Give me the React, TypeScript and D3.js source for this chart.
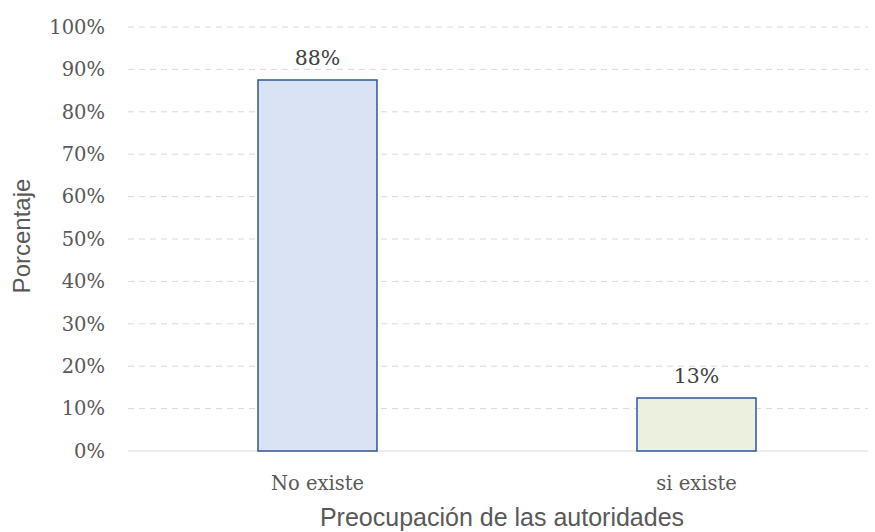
import * as d3 from 'd3';
import { useEffect, useRef } from 'react';

const categories = ['No existe', 'si existe'];
const values = [0.875, 0.125];
const labels = ['88%', '13%'];
const fills = ['#dae3f3', '#ebf1de'];
const yTicks = [0, 0.1, 0.2, 0.3, 0.4, 0.5, 0.6, 0.7, 0.8, 0.9, 1];

const App = () => {
  const svgRef = useRef<SVGSVGElement>(null);
  const width = 875, height = 532;

  useEffect(() => {
    const svg = d3.select(svgRef.current);
    svg.selectAll('*').remove();

    const x = d3.scaleBand().domain(categories).range([128, 886])
      .paddingInner(0.686).paddingOuter(0.343);
    const y = d3.scaleLinear().domain([0, 1]).range([451, 27]);
    const serif = '"DejaVu Serif", "Liberation Serif", serif';
    const sans = '"Liberation Sans", Arial, sans-serif';

    // grid
    svg.append('g').selectAll('line').data(yTicks).join('line')
      .attr('x1', 128).attr('x2', 868)
      .attr('y1', d => y(d)).attr('y2', d => y(d))
      .attr('stroke', '#d9d9d9').attr('stroke-width', 1)
      .attr('stroke-dasharray', d => d === 0 ? null : '6,5');

    // y tick labels
    svg.append('g').selectAll('text').data(yTicks).join('text')
      .attr('x', 105).attr('y', d => y(d)).attr('dy', '0.35em')
      .attr('text-anchor', 'end').attr('font-family', serif).attr('font-size', 19.5)
      .attr('fill', '#595959').text(d => d3.format('.0%')(d));

    // bars
    svg.append('g').selectAll('rect').data(values).join('rect')
      .attr('x', (d, i) => x(categories[i])!)
      .attr('y', d => y(d))
      .attr('width', x.bandwidth())
      .attr('height', d => y(0) - y(d))
      .attr('fill', (d, i) => fills[i])
      .attr('stroke', '#2f5597').attr('stroke-width', 1.5);

    // value labels
    svg.append('g').selectAll('text').data(values).join('text')
      .attr('x', (d, i) => x(categories[i])! + x.bandwidth() / 2)
      .attr('y', d => y(d) - 15)
      .attr('text-anchor', 'middle').attr('font-family', serif).attr('font-size', 20.5)
      .attr('fill', '#404040').text((d, i) => labels[i]);

    // category labels
    svg.append('g').selectAll('text').data(categories).join('text')
      .attr('x', d => x(d)! + x.bandwidth() / 2)
      .attr('y', 490)
      .attr('text-anchor', 'middle').attr('font-family', serif).attr('font-size', 19.5)
      .attr('fill', '#595959').text(d => d);

    // axis titles
    svg.append('text').attr('x', 502).attr('y', 526)
      .attr('text-anchor', 'middle').attr('font-family', sans).attr('font-size', 25)
      .attr('fill', '#595959').text('Preocupación de las autoridades');
    svg.append('text')
      .attr('transform', 'translate(30,236) rotate(-90)')
      .attr('text-anchor', 'middle').attr('font-family', sans).attr('font-size', 24)
      .attr('fill', '#595959').text('Porcentaje');
  }, []);

  return (
    <svg ref={svgRef} width={width} height={height}
      style={{ position: 'absolute', left: 0, top: 0, background: '#fff' }} />
  );
};

export default App;
